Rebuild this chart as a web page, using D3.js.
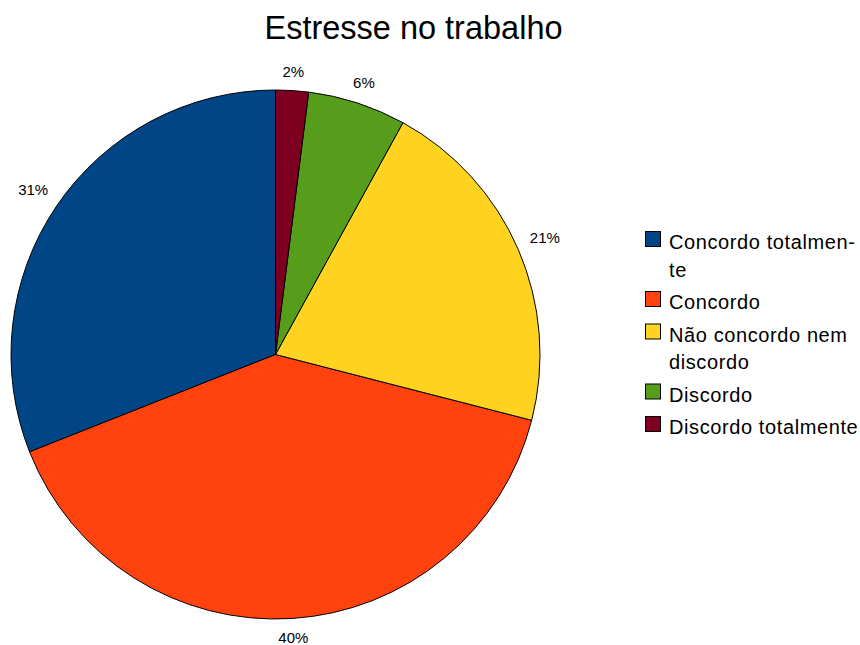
<!DOCTYPE html>
<html>
<head>
<meta charset="utf-8">
<script src="https://cdn.jsdelivr.net/npm/d3@7"></script>
<style>
  html, body { margin: 0; padding: 0; background: #fff; }
  svg { display: block; font-family: "Liberation Sans", Arial, sans-serif; }
</style>
</head>
<body>
<svg id="chart" width="860" height="645"></svg>
<script>
// Survey answers, in legend order
const categories = [
  "Concordo totalmente",
  "Concordo",
  "Não concordo nem discordo",
  "Discordo",
  "Discordo totalmente"
];
// Legend text, wrapped as in the legend box
const legendLines = [
  ["Concordo totalmen-", "te"],
  ["Concordo"],
  ["Não concordo nem", "discordo"],
  ["Discordo"],
  ["Discordo totalmente"]
];
const values = [31, 40, 21, 6, 2];
const colors = ["#004586", "#ff420e", "#ffd320", "#579d1c", "#7e0021"];
const title = "Estresse no trabalho";

const svg = d3.select("#chart");
const cx = 275.5, cy = 354.5, R = 264.5;

svg.append("text")
  .attr("x", 413.5).attr("y", 39)
  .attr("text-anchor", "middle")
  .attr("font-size", 32.5)
  .attr("fill", "#000")
  .text(title);

// Slices run counter-clockwise from twelve o'clock
const pie = d3.pie().sort(null).value(d => d).startAngle(0).endAngle(-2 * Math.PI);
const arcs = pie(values);
const arc = d3.arc().innerRadius(0).outerRadius(R);

const g = svg.append("g").attr("transform", `translate(${cx},${cy})`);
g.selectAll("path.slice")
  .data(arcs)
  .enter().append("path")
  .attr("class", "slice")
  .attr("d", arc)
  .attr("fill", (d, i) => colors[i])
  .attr("stroke", "#000")
  .attr("stroke-width", 1)
  .attr("stroke-linejoin", "round");

// Percentage labels outside the rim
const pct = d3.format(".0%");
const total = d3.sum(values);
const capH = 11;
arcs.forEach((d, i) => {
  const a = (d.startAngle + d.endAngle) / 2;
  const t = g.append("text")
    .attr("font-size", 15)
    .attr("fill", "#000")
    .attr("text-anchor", "middle")
    .text(pct(values[i] / total));
  const w = t.node().getComputedTextLength();
  const dist = R + 13 + Math.abs(Math.sin(a)) * w / 2 + Math.abs(Math.cos(a)) * capH / 2;
  const x = Math.sin(a) * dist;
  const y = -Math.cos(a) * dist;
  t.attr("x", x).attr("y", y + capH / 2);
});

// Legend
const legend = svg.append("g");
let ly = 231;
const lineH = 27.5, pad = 5;
categories.forEach((c, i) => {
  const item = legend.append("g").attr("class", "legend-item");
  item.append("rect")
    .attr("x", 645.5).attr("y", ly + 0.5)
    .attr("width", 15).attr("height", 15)
    .attr("fill", colors[i])
    .attr("stroke", "#000")
    .attr("stroke-width", 1);
  legendLines[i].forEach((ln, k) => {
    item.append("text")
      .attr("x", 669)
      .attr("y", ly + 18 + k * lineH)
      .attr("font-size", 20)
      .attr("letter-spacing", 0.6)
      .attr("fill", "#000")
      .text(ln);
  });
  ly += legendLines[i].length * lineH + pad;
});
</script>
</body>
</html>
